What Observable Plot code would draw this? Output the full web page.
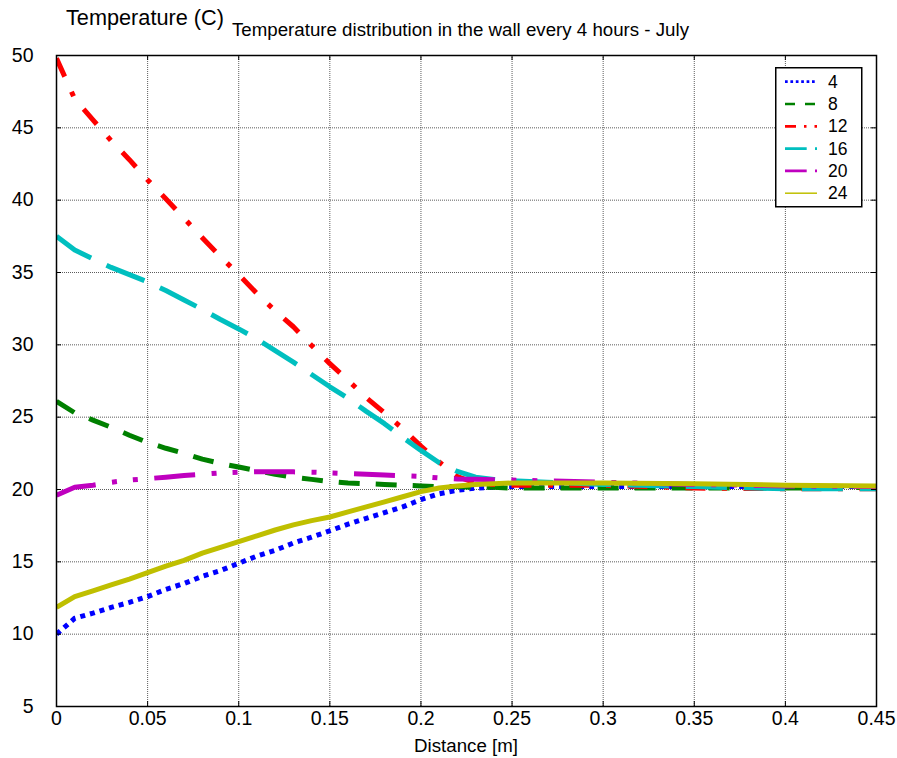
<!DOCTYPE html>
<html><head><meta charset="utf-8">
<script src="https://cdn.jsdelivr.net/npm/d3@7"></script>
<script src="https://cdn.jsdelivr.net/npm/@observablehq/plot@0.6"></script>
<style>
body{margin:0;background:#fff;font-family:"Liberation Sans",Arial,sans-serif;}
#wrap{position:relative;width:897px;height:758px;overflow:hidden;}
.t{position:absolute;white-space:nowrap;color:#000;line-height:1;}
#chart{position:absolute;left:0;top:0;}
#legend{position:absolute;left:775px;top:67px;}
</style></head><body>
<div id="wrap">
<div id="chart"></div>
<div class="t" style="left:66px;top:7px;font-size:21.7px;">Temperature (C)</div>
<div class="t" style="left:232px;top:21px;font-size:18.7px;">Temperature distribution in the wall every 4 hours - July</div>
<div class="t" style="left:0;width:932px;text-align:center;top:737px;font-size:18.7px;">Distance [m]</div>
<svg id="legend" width="88" height="141"></svg>
</div>
<script>
// ---- data ----
const distance = [0,0.01,0.02,0.03,0.04,0.05,0.06,0.07,0.08,0.09,0.10,0.11,0.12,0.13,0.14,0.15,0.16,0.17,0.18,0.19,0.20,0.21,0.22,0.23,0.24,0.25,0.30,0.35,0.40,0.45];
const hours = ["4","8","12","16","20","24"];
const t4  = [10.0,11.1,11.45,11.85,12.2,12.6,13.1,13.5,14.0,14.4,14.9,15.4,15.8,16.3,16.7,17.15,17.6,18.0,18.4,18.8,19.3,19.7,19.95,20.1,20.15,20.2,20.2,20.2,20.2,20.2];
const t8  = [26.1,25.3,24.8,24.3,23.75,23.25,22.85,22.5,22.1,21.8,21.55,21.3,21.05,20.85,20.7,20.55,20.45,20.4,20.35,20.3,20.25,20.2,20.2,20.15,20.15,20.1,20.1,20.1,20.1,20.15];
const t12 = [49.8,47.0,45.55,44.1,42.8,41.4,40.1,38.75,37.4,36.1,34.85,33.55,32.35,31.25,29.95,28.7,27.55,26.35,25.3,24.2,23.0,21.9,20.9,20.45,20.35,20.3,20.3,20.1,20.05,20.05];
const t16 = [37.5,36.55,35.95,35.35,34.85,34.35,33.75,33.1,32.45,31.75,31.1,30.4,29.6,28.8,27.95,27.1,26.3,25.4,24.55,23.6,22.7,21.85,21.25,20.85,20.7,20.6,20.35,20.2,20.05,20.05];
const t20 = [19.6,20.15,20.3,20.5,20.65,20.75,20.85,20.97,21.05,21.15,21.2,21.23,21.23,21.22,21.2,21.15,21.1,21.05,21.0,20.95,20.9,20.8,20.72,20.7,20.68,20.65,20.5,20.35,20.25,20.2];
const t24 = [11.85,12.6,13.0,13.4,13.8,14.25,14.7,15.1,15.6,16.0,16.4,16.8,17.2,17.55,17.85,18.1,18.45,18.8,19.15,19.5,19.85,20.1,20.25,20.35,20.4,20.45,20.45,20.4,20.3,20.25];
const xTicks = [0,0.05,0.1,0.15,0.2,0.25,0.3,0.35,0.4,0.45];
const xTickLabels = ["0","0.05","0.1","0.15","0.2","0.25","0.3","0.35","0.4","0.45"];
const yTicks = [5,10,15,20,25,30,35,40,45,50];
const yTickLabels = ["5","10","15","20","25","30","35","40","45","50"];

// ---- styles ----
const colors = ["#0000ff","#008000","#ff0000","#00bfbf","#bf00bf","#bfbf00"];
const dashes = ["5,5","21,16","20,16.5,5,16.5","41,17","41,16.5,5,16,5,16.5",null];
const legendDashes = ["2.7,2.7","10,10","11,8,2.5,8","21.7,8.3,2.5,8.3","21.7,8.3,2.5,8.3",null];
const series = [t4,t8,t12,t16,t20,t24];

const W = 897, H = 758, mL = 56, mR = 21, mT = 55, mB = 52;
const innerW = W - mL - mR, innerH = H - mT - mB, tk = 5;

const lineMarks = series.map((vals, i) => Plot.line(
  distance.map((d, j) => ({x: d, y: vals[j]})),
  {x: "x", y: "y", stroke: colors[i], strokeWidth: 5,
   strokeDasharray: dashes[i] || undefined, strokeLinecap: "butt", strokeLinejoin: "round", clip: true}
));

const gridStyle = {stroke: "#333", strokeOpacity: 0.8, strokeWidth: 1, strokeDasharray: "1,1"};

const chart = Plot.plot({
  width: W, height: H,
  marginLeft: mL, marginRight: mR, marginTop: mT, marginBottom: mB,
  x: {domain: [0, 0.45]},
  y: {domain: [5, 50]},
  style: {fontFamily: "'Liberation Sans', Arial, sans-serif", fontSize: "19.5px", background: "transparent", color: "#000"},
  marks: [
    Plot.ruleX(xTicks, gridStyle),
    Plot.ruleY(yTicks, gridStyle),
    ...lineMarks,
    Plot.ruleX(xTicks, {stroke: "#000", strokeWidth: 1, insetTop: innerH - tk}),
    Plot.ruleX(xTicks, {stroke: "#000", strokeWidth: 1, insetBottom: innerH - tk}),
    Plot.ruleY(yTicks, {stroke: "#000", strokeWidth: 1, insetRight: innerW - tk}),
    Plot.ruleY(yTicks, {stroke: "#000", strokeWidth: 1, insetLeft: innerW - tk}),
    Plot.axisX(xTicks, {anchor: "bottom", tickSize: 0, tickPadding: 5, label: null, tickFormat: (d, i) => xTickLabels[i]}),
    Plot.axisY(yTicks, {anchor: "left", tickSize: 0, tickPadding: 23, label: null, tickFormat: (d, i) => yTickLabels[i]}),
    Plot.frame({stroke: "#000", strokeWidth: 1.5})
  ]
});
document.getElementById("chart").appendChild(chart);

// ---- legend ----
const lg = d3.select("#legend");
lg.append("rect").attr("x", 0.75).attr("y", 0.75).attr("width", 86).attr("height", 139)
  .attr("fill", "#fff").attr("stroke", "#000").attr("stroke-width", 1.5);
hours.forEach((h, i) => {
  const cy = 14.7 + i * 22.3;
  const ln = lg.append("line").attr("x1", 10).attr("x2", 42).attr("y1", cy).attr("y2", cy)
    .attr("stroke", colors[i]).attr("stroke-width", i === 5 ? 1.5 : 2.7);
  if (legendDashes[i]) ln.attr("stroke-dasharray", legendDashes[i]);
  lg.append("text").attr("x", 53).attr("y", cy).attr("dy", "0.35em")
    .attr("font-size", 17.5).attr("font-family", "'Liberation Sans', Arial, sans-serif").text(h);
});
</script>
</body></html>
